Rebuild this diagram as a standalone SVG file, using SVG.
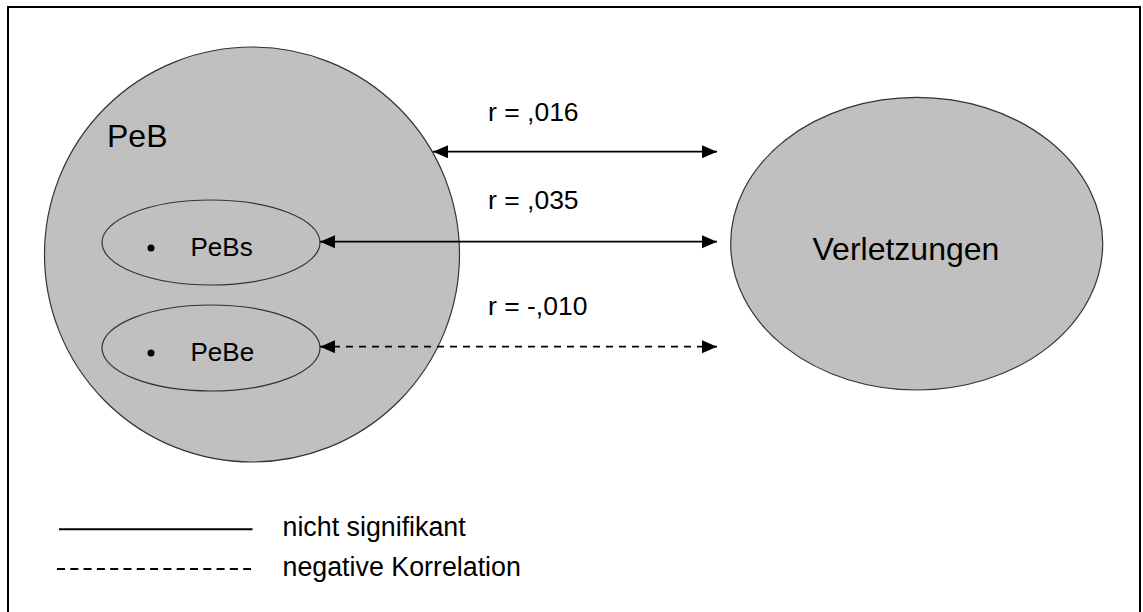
<svg xmlns="http://www.w3.org/2000/svg" width="1143" height="612" viewBox="0 0 1143 612">
<style>
.t{font-family:"Liberation Sans",Arial,sans-serif;fill:#000}
.node{fill:#c0c0c0;stroke:#333;stroke-width:1.2}
.sub{fill:#c0c0c0;stroke:#333;stroke-width:1.2}
.conn{stroke:#000;stroke-width:1.8;fill:none}
.dash{stroke-dasharray:7 6}
</style>
<defs>
<marker id="ah" markerUnits="userSpaceOnUse" markerWidth="16" markerHeight="14" refX="15" refY="6.5" orient="auto-start-reverse" viewBox="0 0 16 14">
<path d="M0,0 L15,6.5 L0,13 z" fill="#000"/>
</marker>
</defs>
<rect x="8" y="7" width="1132" height="620" fill="#fff" stroke="#000" stroke-width="2"/>
<g id="PeB">
<circle class="node" cx="252" cy="254.5" r="207.5"/>
<text class="t" x="107" y="147" font-size="32">PeB</text>
</g>
<g id="PeBs">
<ellipse class="sub" cx="211" cy="242.5" rx="109" ry="42.5"/>
<circle cx="151" cy="248" r="3.5" fill="#000"/>
<text class="t" x="190.5" y="255.5" font-size="26">PeBs</text>
</g>
<g id="PeBe">
<ellipse class="sub" cx="211" cy="348" rx="109" ry="43"/>
<circle cx="151" cy="353" r="3.5" fill="#000"/>
<text class="t" x="190.5" y="361" font-size="26">PeBe</text>
</g>
<g id="Verletzungen">
<ellipse class="node" cx="916.7" cy="243.7" rx="186" ry="146.3"/>
<text class="t" x="812.5" y="260" font-size="32">Verletzungen</text>
</g>
<g id="connectors">
<line class="conn" x1="433" y1="151.7" x2="717" y2="151.7" marker-start="url(#ah)" marker-end="url(#ah)"/>
<line class="conn" x1="320" y1="241.7" x2="717" y2="241.7" marker-start="url(#ah)" marker-end="url(#ah)"/>
<line class="conn dash" x1="320" y1="346.7" x2="717" y2="346.7" marker-start="url(#ah)" marker-end="url(#ah)"/>
<text class="t" x="488" y="121" font-size="26.5">r = ,016</text>
<text class="t" x="488" y="209" font-size="26.5">r = ,035</text>
<text class="t" x="488" y="315" font-size="26.5">r = -,010</text>
</g>
<g id="legend">
<line x1="59" y1="529.3" x2="252.5" y2="529.3" stroke="#000" stroke-width="2"/>
<line x1="57" y1="569" x2="251" y2="569" stroke="#000" stroke-width="2" stroke-dasharray="8 5.3"/>
<text class="t" x="282.5" y="536" font-size="26.8">nicht signifikant</text>
<text class="t" x="282.5" y="575.5" font-size="26.8">negative Korrelation</text>
</g>
</svg>
